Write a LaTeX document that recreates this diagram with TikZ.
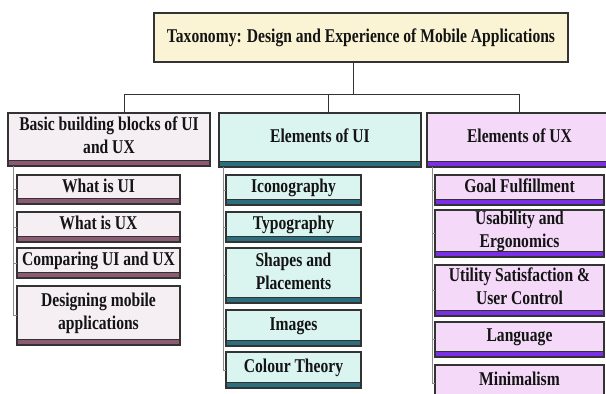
\documentclass[tikz,border=0pt]{standalone}
\usepackage{fontspec}
\setmainfont{Liberation Serif}[FakeStretch=0.8]
\usepackage{tikz}

\definecolor{topfill}{HTML}{FBF4D4}
\definecolor{basicfill}{HTML}{F5EEF3}
\definecolor{basicband}{HTML}{8C5A72}
\definecolor{uifill}{HTML}{DAF5F0}
\definecolor{uiband}{HTML}{2B6E7E}
\definecolor{uxfill}{HTML}{F4D9F8}
\definecolor{uxband}{HTML}{7A2EE6}
\definecolor{edge}{HTML}{333333}

\newcommand\taxfont{\fontsize{19.5}{23}\selectfont\bfseries}

\tikzset{
  tbox/.style={draw=edge, line width=1.1pt, inner sep=0pt, outer sep=0pt,
    anchor=north west, align=center, text=black!92, font=\taxfont},
  band/.style={path picture={
      \fill[#1] ([yshift=-2pt]path picture bounding box.south west)
        rectangle ([yshift=6pt]path picture bounding box.south east);
      \draw[edge, line width=0.9pt] ([yshift=6pt]path picture bounding box.south west)
        -- ([yshift=6pt]path picture bounding box.south east);}},
  shifted/.style={text depth=8pt},
  basicbox/.style={tbox, shifted, fill=basicfill, band=basicband},
  uibox/.style={tbox, shifted, fill=uifill, band=uiband},
  uxbox/.style={tbox, shifted, fill=uxfill, band=uxband},
  link/.style={draw=edge, line width=1pt},
  rail/.style={draw=black!45, line width=1pt}
}

\begin{document}
\begin{tikzpicture}[x=1pt, y=-1pt]
  \clip (0,0) rectangle (606,394);
  \fill[white] (0,0) rectangle (606,394);

  % root
  \node[tbox, fill=topfill, minimum width=414pt, minimum height=49pt] (top) at (154,13)
    {Taxonomy: Design and Experience of Mobile Applications};

  % categories
  \node[basicbox, minimum width=202pt, minimum height=53pt] (basic) at (8,113)
    {Basic building blocks of UI\\and UX};
  \node[uibox, minimum width=202pt, minimum height=54pt] (uicat) at (219,113)
    {Elements of UI};
  \node[uxbox, minimum width=185pt, minimum height=54pt] (uxcat) at (427,113)
    {Elements of UX};

  % basic building blocks
  \node[basicbox, minimum width=163pt, minimum height=29pt] (whatui) at (17,175) {What is UI};
  \node[basicbox, minimum width=163pt, minimum height=30pt] (whatux) at (17,212) {What is UX};
  \node[basicbox, minimum width=163pt, minimum height=30pt] (compare) at (17,248) {Comparing UI and UX};
  \node[basicbox, minimum width=163pt, minimum height=59pt] (design) at (17,286)
    {Designing mobile\\applications};

  % elements of UI
  \node[uibox, minimum width=135pt, minimum height=30pt] (icon) at (226,175) {Iconography};
  \node[uibox, minimum width=135pt, minimum height=30pt] (typo) at (226,212) {Typography};
  \node[uibox, minimum width=135pt, minimum height=55pt] (shapes) at (226,248)
    {Shapes and\\Placements};
  \node[uibox, minimum width=135pt, minimum height=36pt] (images) at (226,310) {Images};
  \node[uibox, minimum width=135pt, minimum height=36pt] (colour) at (226,352) {Colour Theory};

  % elements of UX
  \node[uxbox, minimum width=169pt, minimum height=30pt] (goal) at (435,175) {Goal Fulfillment};
  \node[uxbox, minimum width=169pt, minimum height=47pt] (usab) at (435,210)
    {Usability and\\Ergonomics};
  \node[uxbox, minimum width=169pt, minimum height=51pt] (util) at (435,265)
    {Utility Satisfaction \&\\User Control};
  \node[uxbox, minimum width=169pt, minimum height=35pt] (lang) at (435,322) {Language};
  \node[uxbox, minimum width=169pt, minimum height=36pt] (minim) at (435,365) {Minimalism};

  % tree
  \draw[link] ([xshift=-8pt]top.south) -- ++(0,32);
  \draw[link] ([xshift=15pt]basic.north) -- ++(0,-19) -| (uxcat.north);
  \draw[link] ([xshift=8pt]uicat.north) -- ++(0,-19);

  \draw[rail] ([xshift=5pt]basic.south west) |- (whatui.west);
  \draw[rail] ([xshift=5pt]basic.south west) |- (whatux.west);
  \draw[rail] ([xshift=5pt]basic.south west) |- (compare.west);
  \draw[rail] ([xshift=5pt]basic.south west) |- (design.west);

  \draw[rail] ([xshift=4pt]uicat.south west) |- (icon.west);
  \draw[rail] ([xshift=4pt]uicat.south west) |- (typo.west);
  \draw[rail] ([xshift=4pt]uicat.south west) |- (shapes.west);
  \draw[rail] ([xshift=4pt]uicat.south west) |- (images.west);
  \draw[rail] ([xshift=4pt]uicat.south west) |- (colour.west);

  \draw[rail] ([xshift=5pt]uxcat.south west) |- (goal.west);
  \draw[rail] ([xshift=5pt]uxcat.south west) |- (usab.west);
  \draw[rail] ([xshift=5pt]uxcat.south west) |- (util.west);
  \draw[rail] ([xshift=5pt]uxcat.south west) |- (lang.west);
  \draw[rail] ([xshift=5pt]uxcat.south west) |- (minim.west);
\end{tikzpicture}
\end{document}
